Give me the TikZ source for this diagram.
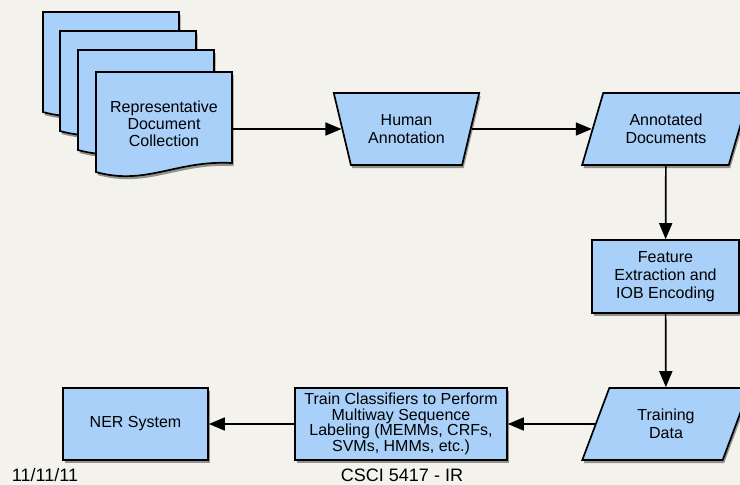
\documentclass[tikz,border=0pt]{standalone}
\usepackage{fontspec}
\setmainfont{Liberation Sans}
\usetikzlibrary{shapes.geometric,arrows.meta,shadows}
\definecolor{bg}{HTML}{F3F2EC}
\definecolor{boxblue}{HTML}{A8D0F8}
\tikzset{
  shd/.style={drop shadow={shadow xshift=1.5pt,shadow yshift=-3pt,opacity=0.4,fill=black}},
  base/.style={draw=black,line width=1.7pt,fill=boxblue,shd,align=center,inner sep=0pt,
    font=\fontsize{16}{18}\selectfont},
  proc/.style={base,rectangle,minimum width=#1,minimum height=72pt},
  manual/.style={base,trapezium,shape border rotate=180,trapezium left angle=68,
    trapezium right angle=68,trapezium stretches=true,minimum width=147pt,minimum height=72pt},
  datab/.style={base,trapezium,trapezium left angle=65.4,trapezium right angle=114.6,
    trapezium stretches=true,minimum width=168pt,minimum height=72pt},
  docpage/.style={draw=black,line width=1.7pt,fill=boxblue,shd},
  arr/.style={line width=1.7pt,-{Triangle[length=16pt,width=13pt]}},
  foot/.style={font=\fontsize{18}{20}\selectfont,anchor=base,inner sep=0pt}
}
\newcommand{\docpath}[2]{%
  \path[docpage] (#1,#2) -- ++(136,0) -- ++(0,91)
    .. controls ++(-56,-3) and (#1+50,#2+114) .. (#1,#2+100) -- cycle;}
\begin{document}
\begin{tikzpicture}[x=1pt,y=-1pt]
\fill[bg] (0,0) rectangle (740,485);
\useasboundingbox (0,0) rectangle (740,485);
% document stack
\docpath{43}{12}
\docpath{60}{31}
\docpath{78}{50}
\docpath{96}{72}
\node[inner sep=0pt,minimum width=136pt,minimum height=100pt] (doc) at (164,122) {};
\node[align=center,font=\fontsize{16}{17}\selectfont] (doctext) at (164,124)
  {Representative\\Document\\Collection};
% nodes
\node[manual] (hum) at (406.5,129) {Human\\Annotation};
\node[datab] (ann) at (666,129) {Annotated\\Documents};
\node[proc=147pt,minimum height=73pt] (feat) at (665.5,276.5) {Feature\\Extraction and\\IOB Encoding};
\node[datab] (train) at (666,424) {Training\\Data};
\node[proc=212pt,font=\fontsize{16}{15.7}\selectfont] (cls) at (401,424)
  {Train Classifiers to Perform\\Multiway Sequence\\Labeling (MEMMs, CRFs,\\SVMs, HMMs, etc.)};
\node[proc=145pt] (ner) at (135.5,424) {NER System};
% connectors
\draw[arr] (doc.east |- hum) -- (hum);
\draw[arr] (hum) -- (ann);
\draw[arr] (ann) -- (feat);
\draw[arr] (feat) -- (train);
\draw[arr] (train) -- (cls);
\draw[arr] (cls) -- (ner);
% footer
\node[foot] (date) at (45,481.5) {11/11/11};
\node[foot] (course) at (402,481.5) {CSCI 5417 - IR};
\end{tikzpicture}
\end{document}
